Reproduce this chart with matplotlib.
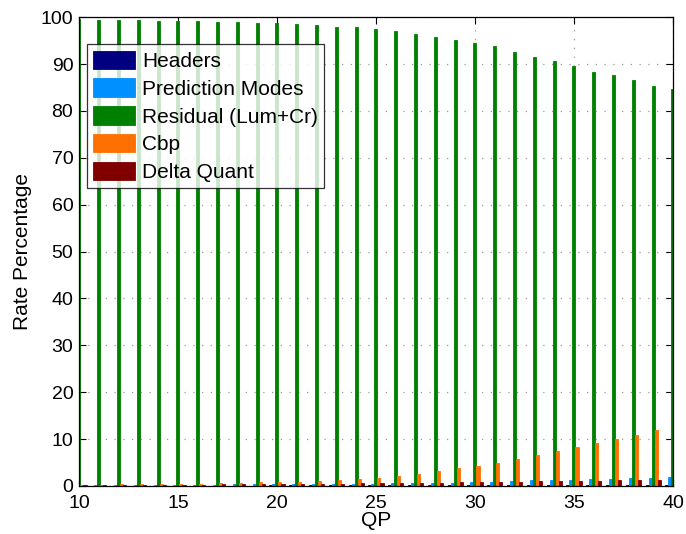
import numpy as np
import matplotlib
matplotlib.use("Agg")
import matplotlib.pyplot as plt

plt.rcParams['font.family'] = ['Liberation Sans', 'DejaVu Sans']

qp = list(range(10, 41))

headers = [0.10, 0.10, 0.10, 0.10, 0.10, 0.10, 0.10, 0.10, 0.10, 0.10,
           0.12, 0.12, 0.12, 0.12, 0.12, 0.14, 0.14, 0.14, 0.15, 0.15,
           0.16, 0.17, 0.18, 0.19, 0.20, 0.21, 0.22, 0.23, 0.25, 0.27, 0.30]
pred_modes = [0.20, 0.20, 0.20, 0.25, 0.25, 0.30, 0.30, 0.30, 0.35, 0.35,
              0.40, 0.40, 0.45, 0.45, 0.50, 0.50, 0.55, 0.60, 0.65, 0.70,
              0.80, 0.90, 1.05, 1.20, 1.30, 1.35, 1.40, 1.50, 1.60, 1.70, 1.85]
residual = [99.6, 99.4, 99.4, 99.4, 99.2, 99.2, 99.2, 99.0, 99.0, 98.8,
            98.8, 98.6, 98.4, 98.0, 97.8, 97.4, 97.0, 96.4, 95.8, 95.1,
            94.5, 93.8, 92.5, 91.4, 90.6, 89.5, 88.4, 87.6, 86.5, 85.3, 84.6]
cbp = [0.30, 0.30, 0.35, 0.35, 0.40, 0.45, 0.50, 0.55, 0.65, 0.75,
       0.85, 0.90, 1.00, 1.35, 1.50, 1.80, 2.20, 2.60, 3.20, 3.80,
       4.30, 4.90, 5.70, 6.70, 7.40, 8.30, 9.20, 10.0, 10.9, 11.9, 12.6]
delta_quant = [0.20, 0.20, 0.25, 0.25, 0.30, 0.30, 0.30, 0.35, 0.35, 0.40,
               0.40, 0.45, 0.50, 0.50, 0.55, 0.60, 0.60, 0.65, 0.70, 0.75,
               0.85, 0.90, 0.95, 1.00, 1.05, 1.10, 1.15, 1.20, 1.25, 1.35, 1.40]

series_names = ["Headers", "Prediction Modes", "Residual (Lum+Cr)", "Cbp", "Delta Quant"]
series_values = [headers, pred_modes, residual, cbp, delta_quant]
series_colors = ["#000080", "#0090FF", "#008000", "#FF7000", "#800000"]

fig = plt.figure(figsize=(6.86, 5.34), dpi=100)
ax = fig.add_axes([0.115, 0.0899, 0.866, 0.878])

n = len(series_values)
group_width = min(0.8, n / (n + 1.5))
step = group_width / n
x = np.array(qp, dtype=float)
for i, (name, vals, col) in enumerate(zip(series_names, series_values, series_colors)):
    offs = (i - (n - 1) / 2) * step
    ax.bar(x + offs, vals, width=step, color=col, edgecolor=col,
           linewidth=0.6, label=name, zorder=2)

ax.set_xlim(10, 40)
ax.set_ylim(0, 100)
ax.set_xticks(range(10, 41, 5))
ax.set_yticks(range(0, 101, 10))
ax.grid(True, color='#9a9a9a', linestyle=(0, (1, 6)), linewidth=0.9, zorder=0)
ax.set_axisbelow(True)
ax.tick_params(direction='in', length=5, width=0.8, top=True, right=True,
               labelsize=14)
ax.tick_params(axis='x', pad=6.5)
ax.tick_params(axis='y', pad=4)
for sp in ax.spines.values():
    sp.set_linewidth(0.9)
    sp.set_zorder(3)

ax.set_xlabel("QP", fontsize=15, labelpad=-1)
ax.set_ylabel("Rate Percentage", fontsize=15, labelpad=6)

leg = ax.legend(loc='upper left', bbox_to_anchor=(0.013, 0.942), fontsize=15,
                frameon=True, fancybox=False, edgecolor='black',
                handlelength=2.0, handleheight=1.0, handletextpad=0.35,
                labelspacing=0.35, borderpad=0.3, borderaxespad=0.0)
leg.get_frame().set_linewidth(0.9)

fig.savefig("out.png", dpi=100)
